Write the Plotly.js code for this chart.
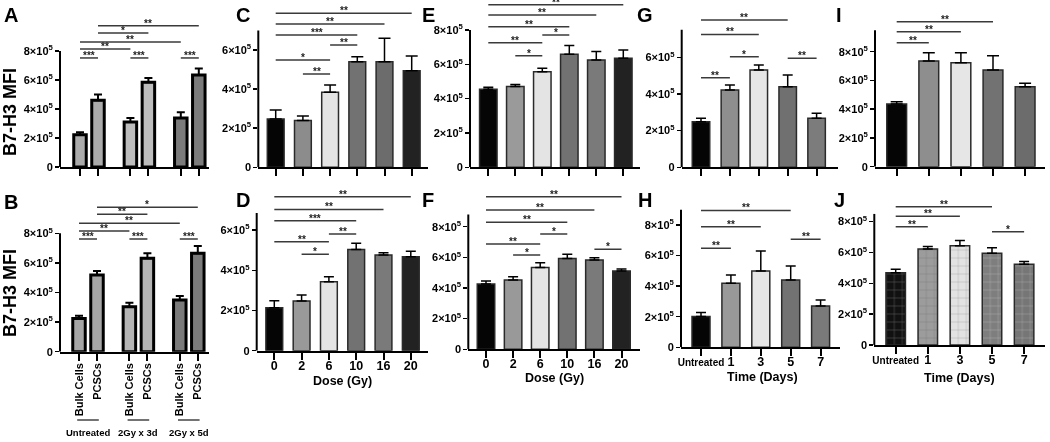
<!DOCTYPE html>
<html><head><meta charset="utf-8">
<script src="https://cdn.plot.ly/plotly-3.0.1.min.js"></script>
<style>body{margin:0;background:#fff}#chart{width:1050px;height:442px;will-change:transform}</style>
</head><body><div id="chart"></div>
<script>
// ---------- DATA ----------
const A_labels = ['Bulk Cells','PCSCs','Bulk Cells','PCSCs','Bulk Cells','PCSCs'];
const A_vals = [2.23e5, 4.60e5, 3.10e5, 5.84e5, 3.38e5, 6.34e5];
const A_err  = [0.16e5, 0.40e5, 0.28e5, 0.30e5, 0.39e5, 0.46e5];
const B_labels = ['Bulk Cells','PCSCs','Bulk Cells','PCSCs','Bulk Cells','PCSCs'];
const B_vals = [2.25e5, 5.18e5, 3.04e5, 6.31e5, 3.49e5, 6.65e5];
const B_err  = [0.18e5, 0.27e5, 0.27e5, 0.34e5, 0.27e5, 0.49e5];
const B_groups = ['Untreated','2Gy x 3d','2Gy x 5d'];

const dose_labels = ['0','2','6','10','16','20'];
const C_vals = [2.47e5, 2.39e5, 3.84e5, 5.40e5, 5.40e5, 4.94e5];
const C_err  = [0.46e5, 0.24e5, 0.37e5, 0.26e5, 1.20e5, 0.75e5];
const D_vals = [2.14e5, 2.47e5, 3.43e5, 5.04e5, 4.76e5, 4.67e5];
const D_err  = [0.35e5, 0.30e5, 0.25e5, 0.30e5, 0.11e5, 0.28e5];
const E_vals = [4.54e5, 4.70e5, 5.57e5, 6.58e5, 6.25e5, 6.35e5];
const E_err  = [0.12e5, 0.12e5, 0.20e5, 0.51e5, 0.49e5, 0.48e5];
const F_vals = [4.26e5, 4.52e5, 5.33e5, 5.93e5, 5.83e5, 5.11e5];
const F_err  = [0.20e5, 0.22e5, 0.32e5, 0.27e5, 0.15e5, 0.13e5];

const time_labels = ['Untreated','1','3','5','7'];
const G_vals = [2.49e5, 4.22e5, 5.31e5, 4.40e5, 2.67e5];
const G_err  = [0.18e5, 0.27e5, 0.27e5, 0.64e5, 0.28e5];
const H_vals = [2.01e5, 4.19e5, 4.99e5, 4.40e5, 2.70e5];
const H_err  = [0.26e5, 0.54e5, 1.31e5, 0.92e5, 0.40e5];
const I_vals = [4.36e5, 7.35e5, 7.23e5, 6.72e5, 5.57e5];
const I_err  = [0.16e5, 0.58e5, 0.70e5, 1.00e5, 0.23e5];
const J_vals = [4.69e5, 6.23e5, 6.44e5, 5.95e5, 5.23e5];
const J_err  = [0.22e5, 0.15e5, 0.33e5, 0.36e5, 0.18e5];

// significance brackets: [from bar, to bar, height, stars]
const A_sig = [[0,1,7.52e5,'***'],[2,3,7.52e5,'***'],[4,5,7.52e5,'***'],[0,2,8.14e5,'**'],[0,4,8.62e5,'**'],[1,3,9.24e5,'*'],[1,5,9.75e5,'**']];
const B_sig = [[0,1,7.61e5,'***'],[2,3,7.61e5,'***'],[4,5,7.61e5,'***'],[0,2,8.16e5,'**'],[0,4,8.68e5,'**'],[1,3,9.28e5,'**'],[1,5,9.76e5,'*']];
const C_sig = [[0,5,7.88e5,'**'],[0,4,7.33e5,'**'],[0,3,6.77e5,'***'],[2,3,6.26e5,'**'],[0,2,5.49e5,'*'],[1,2,4.77e5,'**']];
const D_sig = [[0,5,7.66e5,'**'],[0,4,7.03e5,'**'],[0,3,6.47e5,'***'],[2,3,5.81e5,'**'],[0,2,5.42e5,'**'],[1,2,4.80e5,'*']];
const E_sig = [[0,5,9.46e5,'**'],[0,4,8.87e5,'**'],[0,3,8.19e5,'**'],[2,3,7.71e5,'*'],[0,2,7.26e5,'**'],[1,2,6.50e5,'*']];
const F_sig = [[0,5,9.95e5,'**'],[0,4,9.08e5,'**'],[0,3,8.28e5,'**'],[2,3,7.52e5,'*'],[0,2,6.87e5,'**'],[1,2,6.15e5,'*'],[4,5,6.52e5,'*']];
const G_sig = [[0,3,8.03e5,'**'],[0,2,7.25e5,'**'],[1,2,6.03e5,'*'],[3,4,5.95e5,'**'],[0,1,4.89e5,'**']];
const H_sig = [[0,3,8.95e5,'**'],[0,2,7.89e5,'**'],[0,1,6.47e5,'**'],[3,4,7.06e5,'**']];
const I_sig = [[0,3,1.009e6,'**'],[0,2,9.39e5,'**'],[0,1,8.63e5,'**']];
const J_sig = [[0,3,8.97e5,'**'],[0,2,8.35e5,'**'],[0,1,7.67e5,'**'],[3,4,7.35e5,'*']];

// ---------- STYLE / LAYOUT ----------
const W = 1050, H = 442;
const FONT = 'Arial, "Liberation Sans", sans-serif';
const grpPos = [0,1,2.8,3.8,5.6,6.6];
const panels = [
 {id:'A', vals:A_vals, err:A_err, sig:A_sig, labels:A_labels, pos:grpPos, showTick:false, tf:11,
  colors:['#ababab','#ababab','#bdbdbd','#bdbdbd','#7b7b7b','#7b7b7b'], lc:'#000', lw:3, cap:4, et:2,
  g:{L:60,R:209,c0:80,s:18,zero:167,px:14.5,top:0,axisTop:8e5,bw:15.5}, letter:[11,15]},
 {id:'B', vals:B_vals, err:B_err, sig:B_sig, labels:B_labels, pos:grpPos, showTick:true, angle:-90, tf:11, tso:-2,
  colors:['#a6a6a6','#a6a6a6','#b4b4b4','#b4b4b4','#7b7b7b','#7b7b7b'], lc:'#000', lw:3, cap:4, et:2,
  g:{L:60,R:209,c0:79,s:18,zero:351.7,px:14.8,top:195,axisTop:8e5,bw:15.5}, letter:[11,202]},
 {id:'C', vals:C_vals, err:C_err, sig:C_sig, labels:dose_labels, showTick:false, tf:12,
  colors:['#050505','#8c8c8c','#e4e4e4','#727272','#6c6c6c','#222222'], lc:'#2a2a2a', lw:1.5, cap:6, et:1.5,
  g:{L:258.3,R:428,c0:275.7,s:27.2,zero:167.3,px:19.55,top:0,axisTop:7e5,bw:18.3}, letter:[243,15]},
 {id:'D', vals:D_vals, err:D_err, sig:D_sig, labels:dose_labels, showTick:true, tf:12.5, tso:-5, xtitle:'Dose (Gy)', xt:[342,381],
  colors:['#050505','#999999','#e4e4e4','#727272','#7a7a7a','#222222'], lc:'#2a2a2a', lw:1.5, cap:5, et:1.5,
  g:{L:256.7,R:428,c0:274.3,s:27.3,zero:350.7,px:20.1,top:190,axisTop:6.85e5,bw:18.3}, letter:[243,200]},
 {id:'E', vals:E_vals, err:E_err, sig:E_sig, labels:dose_labels, showTick:false, tf:12,
  colors:['#050505','#9a9a9a','#e4e4e4','#727272','#7a7a7a','#222222'], lc:'#2a2a2a', lw:1.5, cap:5, et:1.5,
  g:{L:470,R:640,c0:488.3,s:27,zero:167.3,px:17.17,top:0,axisTop:8e5,bw:19}, letter:[428,15]},
 {id:'F', vals:F_vals, err:F_err, sig:F_sig, labels:dose_labels, showTick:true, tf:12.5, tso:-5, xtitle:'Dose (Gy)', xt:[554,378],
  colors:['#050505','#999999','#e4e4e4','#727272','#7a7a7a','#222222'], lc:'#2a2a2a', lw:1.5, cap:5, et:1.5,
  g:{L:468.3,R:640,c0:486,s:27.1,zero:349.3,px:15.33,top:190,axisTop:8.8e5,bw:19}, letter:[428,200]},
 {id:'G', vals:G_vals, err:G_err, sig:G_sig, labels:time_labels, showTick:false, tf:12,
  colors:['#050505','#8e8e8e','#e6e6e6','#707070','#7c7c7c'], lc:'#2a2a2a', lw:1.5, cap:5, et:1.5,
  g:{L:681.7,R:838,c0:701,s:28.9,zero:167.3,px:18.33,top:0,axisTop:7.5e5,bw:19}, letter:[645,15]},
 {id:'H', vals:H_vals, err:H_err, sig:H_sig, labels:time_labels, showTick:true, tf:12.5, tso:-5, xtitle:'Time (Days)', xt:[762,377],
  colors:['#050505','#999999','#e6e6e6','#727272','#7a7a7a'], lc:'#2a2a2a', lw:1.5, cap:5, et:1.5,
  g:{L:681,R:840,c0:701,s:29.9,zero:347.3,px:15.29,top:190,axisTop:9e5,bw:19.5}, letter:[645,200]},
 {id:'I', vals:I_vals, err:I_err, sig:I_sig, labels:time_labels, showTick:false, tf:12,
  colors:['#050505','#8e8e8e','#e6e6e6','#727272','#6c6c6c'], lc:'#2a2a2a', lw:1.5, cap:6, et:1.5,
  g:{L:875,R:1045,c0:896.7,s:32.1,zero:166.7,px:14.375,top:0,axisTop:9.5e5,bw:21.3}, letter:[839,15]},
 {id:'J', vals:J_vals, err:J_err, sig:J_sig, labels:time_labels, showTick:true, tf:12.5, tso:-5, xtitle:'Time (Days)', xt:[959,378], pattern:true,
  colors:['#111111','#9c9c9c','#e2e2e2','#7e7e7e','#767676'], lc:'#2a2a2a', lw:1.5, cap:5, et:1.5,
  g:{L:874.3,R:1045,c0:895.7,s:32.1,zero:345,px:15.42,top:190,axisTop:8.5e5,bw:21}, letter:[839,200]}
];

const data = [], shapes = [], annotations = [];
const layout = {
  width: W, height: H, margin:{l:0,r:0,t:0,b:0}, showlegend:false,
  paper_bgcolor:'#fff', plot_bgcolor:'rgba(0,0,0,0)', bargap:0,
  font:{family:FONT, color:'#000'}
};
const sup = n => n === 0 ? '0' : (n/1e5) + '×10<sup>5</sup>';
// long word labels are set a little smaller so they fit under their bar
const tickText = (t, tf) => t.length > 6 && tf > 11 ? '<span style="font-size:10px">' + t + '</span>' : t;

panels.forEach((p, k) => {
  const n = k + 1, xs = n === 1 ? '' : String(n);
  const xa = 'x' + xs, ya = 'y' + xs;
  const g = p.g;
  const pos = p.pos || p.vals.map((_, i) => i);
  const barW = (g.bw - p.lw) / g.s;
  const trace = {
    type:'bar', x:pos, y:p.vals, xaxis:xa, yaxis:ya, width:barW,
    marker:{color:p.colors, line:{color:p.lc, width:p.lw}},
    error_y:{type:'data', symmetric:false, array:p.err, arrayminus:p.vals.map(()=>0),
             color:'#000', thickness:p.et, width:p.cap},
    hoverinfo:'skip'
  };
  if (p.pattern) {
    trace.marker.pattern = {shape:'+', size:8, solidity:0.1, fillmode:'overlay',
      fgcolor:['#444444','#bcbcbc','#f4f4f4','#9c9c9c','#929292'], fgopacity:0.4};
  }
  data.push(trace);

  const ymax = (g.zero - g.top) / g.px * 1e5;
  const tv = [0,2e5,4e5,6e5,8e5].filter(v => v <= g.axisTop + 1);
  layout['xaxis' + xs] = {
    domain:[g.L / W, g.R / W], range:[(g.L - g.c0)/g.s, (g.R - g.c0)/g.s], anchor:ya,
    showline:true, linecolor:'#000', linewidth:2, showgrid:false, zeroline:false,
    ticks:'outside', ticklen:7, tickwidth:2, tickcolor:'#000',
    tickvals:pos, ticktext:p.labels.map(t => tickText(t, p.tf)), showticklabels:p.showTick,
    ticklabelstandoff: p.tso || 0,
    tickangle: p.angle !== undefined ? p.angle : 0,
    tickfont:{family:FONT, size:p.tf, weight:'bold', color:'#000'}, fixedrange:true
  };
  layout['yaxis' + xs] = {
    domain:[1 - g.zero / H, 1 - g.top / H], range:[0, ymax], anchor:xa,
    showline:false, showgrid:false, zeroline:false,
    ticks:'outside', ticklen:4, tickwidth:1.5, tickcolor:'#000',
    tickvals:tv, ticktext:tv.map(sup),
    tickfont:{family:FONT, size:11, weight:'bold', color:'#000'}, fixedrange:true
  };
  // y axis line (only up to top tick region)
  shapes.push({type:'line', xref:xa + ' domain', yref:ya, x0:0, x1:0, y0:0, y1:g.axisTop,
               line:{color:'#000', width:2}});
  // significance brackets
  p.sig.forEach(([i, j, h, s]) => {
    shapes.push({type:'line', xref:xa, yref:ya, x0:pos[i], x1:pos[j], y0:h, y1:h,
                 line:{color:'#3a3a3a', width:1.5}});
    annotations.push({xref:xa, yref:ya, x:(pos[i] + pos[j]) / 2, y:h, text:s, showarrow:false,
                      yanchor:'bottom', yshift:-5, font:{family:FONT, size:10, weight:'bold', color:'#222'}});
  });
  // panel letter
  annotations.push({xref:'paper', yref:'paper', x:p.letter[0] / W, y:1 - p.letter[1] / H, text:p.id,
                    showarrow:false, xanchor:'center', yanchor:'middle',
                    font:{family:FONT, size:20, weight:'bold', color:'#000'}});
  if (p.xtitle) {
    annotations.push({xref:'paper', yref:'paper', x:p.xt[0] / W, y:1 - p.xt[1] / H, text:p.xtitle,
                      showarrow:false, xanchor:'center', yanchor:'middle',
                      font:{family:FONT, size:12.5, weight:'bold', color:'#000'}});
  }
  if (p.id === 'B') {
    B_groups.forEach((gname, gi) => {
      const c = (pos[2 * gi] + pos[2 * gi + 1]) / 2;
      shapes.push({type:'line', xref:xa, yref:'paper', x0:c - 0.6, x1:c + 0.6,
                   y0:1 - 420 / H, y1:1 - 420 / H, line:{color:'#444', width:1.5}});
      annotations.push({xref:xa, yref:'paper', x:c, y:1 - 432 / H, text:gname, showarrow:false,
                        xanchor:'center', yanchor:'middle',
                        font:{family:FONT, size:9.5, weight:'bold', color:'#000'}});
    });
  }
});

// y-axis titles for A and B
[[112],[293]].forEach(([cy]) => {
  annotations.push({xref:'paper', yref:'paper', x:10 / W, y:1 - cy / H, text:'B7-H3 MFI',
                    textangle:-90, showarrow:false, xanchor:'center', yanchor:'middle',
                    font:{family:FONT, size:18, weight:'bold', color:'#000'}});
});

layout.shapes = shapes;
layout.annotations = annotations;
Plotly.newPlot('chart', data, layout, {staticPlot:true, displayModeBar:false});
</script>
</body></html>
